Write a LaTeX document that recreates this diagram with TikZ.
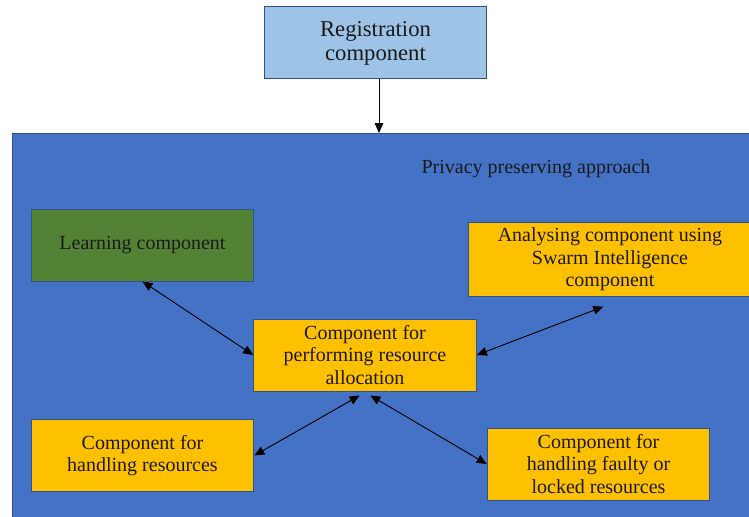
\documentclass[tikz,border=0pt]{standalone}
\usepackage{fontspec}
\setmainfont{Liberation Serif}
\usetikzlibrary{arrows.meta, positioning}
\definecolor{regblue}{HTML}{9DC3E6}
\definecolor{panelblue}{HTML}{4472C4}
\definecolor{learngreen}{HTML}{548235}
\definecolor{compgold}{HTML}{FFC000}
\definecolor{edgeblue}{HTML}{2F528F}
\definecolor{inktext}{HTML}{1A1A1A}

\begin{document}
\begin{tikzpicture}[x=0.75pt, y=-0.75pt,
	compbox/.style={draw=edgeblue, line width=0.75pt, fill=compgold, text=inktext, minimum width=167pt, minimum height=54pt, align=center, inner sep=2pt, font=\fontsize{15}{17}\selectfont},
	link/.style={{Triangle[width=6.5pt,length=7.5pt]}-{Triangle[width=6.5pt,length=7.5pt]}, line width=0.7pt}]
	\useasboundingbox (0,0) rectangle (749,517);
	% panel for the approach
	\draw[fill=panelblue, draw=edgeblue, line width=0.75pt] (12,133) rectangle (770,540);
	\coordinate (paneltop) at (379,133);
	\node[text=inktext, font=\fontsize{15}{17}\selectfont] (title) at (536,169) {Privacy preserving approach};
	\node[compbox, fill=regblue, font=\fontsize{17}{18}\selectfont] (reg) at (375.5,43) {Registration\\component};
	\node[compbox, fill=learngreen] (learn) at (142.5,245) {Learning component};
	\node[compbox, minimum width=212pt, minimum height=55pt] (ana) at (610,259.5) {Analysing component using\\Swarm Intelligence\\component};
	\node[compbox] (alloc) at (365,355) {Component for\\performing resource\\allocation};
	\node[compbox] (handle) at (142.5,455.5) {Component for\\handling resources};
	\node[compbox] (faulty) at (598.5,464) {Component for\\handling faulty or\\locked resources};
	\draw[-{Triangle[width=6.5pt,length=7.5pt]}, line width=0.7pt] (reg.south -| paneltop) -- (paneltop);
	\draw[link] (learn.south) -- (alloc.west);
	\draw[link] (alloc.east) -- ([xshift=-5pt,yshift=-7.5pt]ana.south);
	\draw[link] ([xshift=-4pt,yshift=-3pt]alloc.south) -- (handle.east);
	\draw[link] ([xshift=4pt,yshift=-3pt]alloc.south) -- (faulty.west);
\end{tikzpicture}
\end{document}
